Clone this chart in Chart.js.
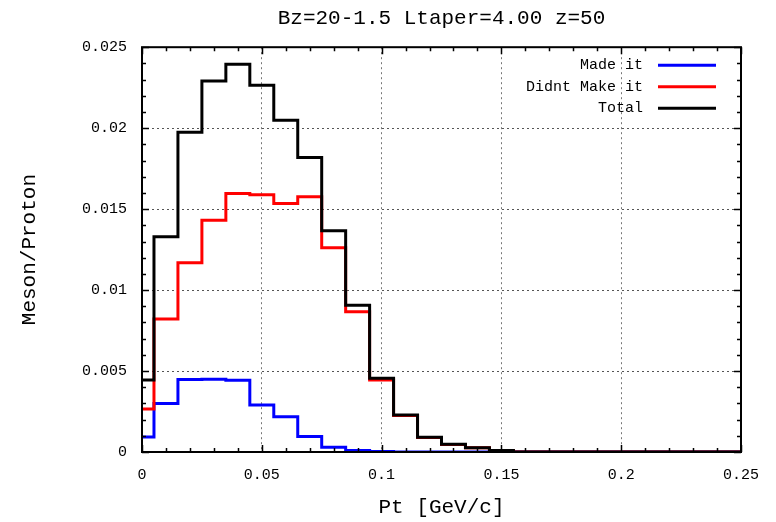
<!DOCTYPE html>
<html>
<head>
<meta charset="utf-8">
<script src="https://cdn.jsdelivr.net/npm/chart.js@4"></script>
<style>
  body { margin: 0; background: #fff; }
  #wrap { width: 776px; height: 522px; }
</style>
</head>
<body>
<div id="wrap"><canvas id="mycanvas"></canvas></div>
<script>
// bin centres, Pt [GeV/c]
var ptBins = [0, 0.01, 0.02, 0.03, 0.04, 0.05, 0.06, 0.07, 0.08, 0.09,
              0.10, 0.11, 0.12, 0.13, 0.14, 0.15, 0.16, 0.17, 0.18, 0.19,
              0.20, 0.21, 0.22, 0.23, 0.24, 0.25];
var madeIt = [0.00093, 0.00300, 0.00448, 0.00450, 0.00443, 0.00290, 0.00218, 0.00095, 0.00029, 0.00010,
              0.00003, 0, 0, 0, 0, 0, 0, 0, 0, 0,
              0, 0, 0, 0, 0, 0];
var didntMakeIt = [0.00265, 0.00821, 0.01169, 0.01432, 0.01597, 0.01588, 0.01535, 0.01576, 0.01261, 0.00866,
                   0.00444, 0.00225, 0.00090, 0.00047, 0.00026, 0.00010, 0, 0, 0, 0,
                   0, 0, 0, 0, 0, 0];
var total = [0.00444, 0.01329, 0.01975, 0.02292, 0.02395, 0.02265, 0.02049, 0.01819, 0.01366, 0.00907,
             0.00455, 0.00228, 0.00091, 0.00048, 0.00027, 0.00010, 0, 0, 0, 0,
             0, 0, 0, 0, 0, 0];
var xTicks = [0, 0.05, 0.1, 0.15, 0.2, 0.25];
var yTicks = [0, 0.005, 0.01, 0.015, 0.02, 0.025];

function points(vals) {
    var out = [];
    for (var i in ptBins) {
        out.push({ x: ptBins[i], y: vals[i] });
    }
    return out;
}

function fmt(v) {
    return String(+Number(v).toFixed(4));
}

Chart.defaults.font.family = "'Liberation Mono', 'DejaVu Sans Mono', monospace";
Chart.defaults.color = '#000';

// gnuplot style frame with inward ticks on all four sides
const frame = {
    id: 'frame',
    afterDatasetsDraw(chart) {
        const ctx = chart.ctx;
        const a = chart.chartArea;
        const xs = chart.scales.x, ys = chart.scales.y;
        ctx.save();
        ctx.strokeStyle = '#000';
        ctx.lineWidth = 1.5;
        ctx.beginPath();
        for (var i = 0; i <= 25; i++) {
            var px = Math.round(xs.getPixelForValue(i * 0.01)) + 0.5;
            var len = (i % 5 == 0) ? 7 : 4;
            ctx.moveTo(px, a.bottom); ctx.lineTo(px, a.bottom - len);
            ctx.moveTo(px, a.top); ctx.lineTo(px, a.top + len);
        }
        for (var j = 0; j <= 25; j++) {
            var py = Math.round(ys.getPixelForValue(j * 0.001)) + 0.5;
            var l2 = (j % 5 == 0) ? 7 : 4;
            ctx.moveTo(a.left, py); ctx.lineTo(a.left + l2, py);
            ctx.moveTo(a.right, py); ctx.lineTo(a.right - l2, py);
        }
        ctx.stroke();
        ctx.lineWidth = 2;
        ctx.strokeRect(a.left, a.top, a.right - a.left, a.bottom - a.top);
        ctx.restore();
    },
    afterDraw(chart) {
        const ctx = chart.ctx;
        const a = chart.chartArea;
        ctx.save();
        ctx.font = "15px 'Liberation Mono', monospace";
        ctx.textAlign = 'right';
        ctx.textBaseline = 'middle';
        chart.data.datasets.forEach(function (ds, k) {
            var y = a.top + 18 + k * 21.5;
            ctx.fillStyle = '#000';
            ctx.fillText(ds.label, a.right - 98, y);
            ctx.strokeStyle = ds.borderColor;
            ctx.lineWidth = 3;
            ctx.beginPath();
            ctx.moveTo(a.right - 83, y);
            ctx.lineTo(a.right - 25, y);
            ctx.stroke();
        });
        ctx.restore();
    }
};

const chartdata = {
    datasets: [{
        label: 'Made it',
        data: points(madeIt),
        borderColor: '#0000ff',
        order: 3
    }, {
        label: 'Didnt Make it',
        data: points(didntMakeIt),
        borderColor: '#ff0000',
        order: 2
    }, {
        label: 'Total',
        data: points(total),
        borderColor: '#000000',
        order: 1
    }]
};

var ctx = document.getElementById('mycanvas');
var histo = new Chart(ctx, {
    type: 'line',
    data: chartdata,
    options: {
        responsive: true,
        maintainAspectRatio: false,
        animation: false,
        layout: { padding: { top: 0, right: 35, left: 0, bottom: 0 } },
        elements: {
            line: { stepped: 'middle', borderWidth: 3, tension: 0 },
            point: { radius: 0 }
        },
        plugins: {
            legend: { display: false },
            tooltip: { enabled: false },
            title: {
                display: true,
                fullSize: false,
                text: 'Bz=20-1.5 Ltaper=4.00 z=50',
                font: { size: 21, weight: 'normal' },
                padding: { top: 6, bottom: 16 }
            }
        },
        scales: {
            x: {
                type: 'linear',
                min: 0,
                max: 0.25,
                afterFit: function (s) { s.height = 70; },
                afterBuildTicks: function (s) { s.ticks = xTicks.map(function (v) { return { value: v }; }); },
                ticks: { padding: 14, font: { size: 15 }, maxRotation: 0, callback: fmt },
                grid: { color: '#777', lineWidth: 1, drawTicks: false },
                border: { display: false, dash: [2, 3] },
                title: { display: true, text: 'Pt [GeV/c]', font: { size: 21 }, padding: { top: 0, bottom: 2 } }
            },
            y: {
                min: 0,
                max: 0.025,
                afterFit: function (s) { s.width = 142; },
                afterBuildTicks: function (s) { s.ticks = yTicks.map(function (v) { return { value: v }; }); },
                ticks: { padding: 15, font: { size: 15 }, callback: fmt },
                grid: { color: '#555', lineWidth: 1, drawTicks: false },
                border: { display: false, dash: [2, 3] },
                title: { display: true, text: 'Meson/Proton', font: { size: 21 }, padding: { top: 17, bottom: 0 } }
            }
        }
    },
    plugins: [frame]
});
</script>
</body>
</html>
